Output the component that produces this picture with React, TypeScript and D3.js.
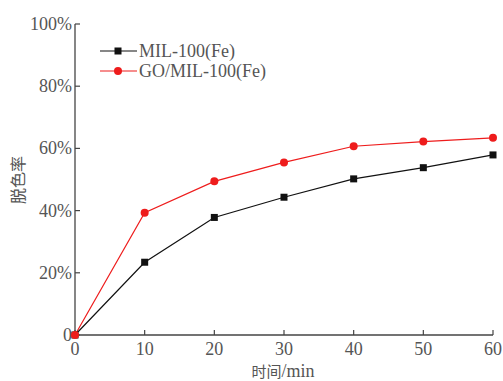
import React from "react";
import * as d3 from "d3";

const times = [0, 10, 20, 30, 40, 50, 60];
const milValues = [0, 23.4, 37.8, 44.3, 50.2, 53.8, 57.9];
const goMilValues = [0, 39.3, 49.4, 55.5, 60.7, 62.2, 63.4];
const xTicks = [0, 10, 20, 30, 40, 50, 60];
const yTicks = [0, 20, 40, 60, 80, 100];
const seriesNames = ["MIL-100(Fe)", "GO/MIL-100(Fe)"];
const xTitleCn = "时间";
const xTitleUnit = "/min";
const yTitle = "脱色率";

const W = 503;
const H = 381;
const left = 75, right = 493, top = 24, bottom = 335;
const serif = { fontFamily: '"Liberation Serif", serif' } as React.CSSProperties;
const cjk = { fontFamily: '"Noto Sans CJK SC", sans-serif' } as React.CSSProperties;

export default function App() {
  const x = d3.scaleLinear().domain([0, 60]).range([left, right]);
  const y = d3.scaleLinear().domain([0, 100]).range([bottom, top]);
  const line = d3.line<number>().x((_, i) => x(times[i])).y((v) => y(v));
  const black = "#111";
  const red = "#ee1c1c";
  const axisColor = "#444";
  const txt = "#555";
  return (
    <div style={{ position: "absolute", left: 0, top: 0 }}>
      <svg width={W} height={H} style={{ display: "block", background: "#fff" }}>
        <line x1={left} x2={left} y1={top} y2={bottom} stroke={axisColor} strokeWidth={1.3} />
        <line x1={left} x2={right} y1={bottom} y2={bottom} stroke={axisColor} strokeWidth={1.3} />
        {yTicks.map((t) => (
          <g key={"y" + t}>
            <line x1={left} x2={left + 5} y1={y(t)} y2={y(t)} stroke={axisColor} strokeWidth={1.2} />
            <text x={left - 3} y={y(t) + 6} textAnchor="end" style={serif} fontSize={18} fill={txt}>
              {t === 0 ? "0" : t + "%"}
            </text>
          </g>
        ))}
        {xTicks.map((t) => (
          <g key={"x" + t}>
            <line x1={x(t)} x2={x(t)} y1={bottom} y2={bottom - 5} stroke={axisColor} strokeWidth={1.2} />
            <text x={x(t)} y={bottom + 20} textAnchor="middle" style={serif} fontSize={18} fill={txt}>
              {t}
            </text>
          </g>
        ))}
        <text x={283} y={377} textAnchor="middle" style={serif} fontSize={18} fill={txt}>
          <tspan style={cjk} fontSize={15}>{xTitleCn}</tspan>{xTitleUnit}
        </text>
        <text
          transform={`translate(24,180) rotate(-90)`}
          textAnchor="middle"
          style={cjk}
          fontSize={16}
          fill={txt}
        >
          {yTitle}
        </text>
        <path d={line(goMilValues) || ""} fill="none" stroke={red} strokeWidth={1.2} />
        <path d={line(milValues) || ""} fill="none" stroke={black} strokeWidth={1.2} />
        {milValues.map((v, i) => (
          <rect key={"m" + i} x={x(times[i]) - 3.5} y={y(v) - 3.5} width={7} height={7} fill={black} />
        ))}
        {goMilValues.map((v, i) => (
          <circle key={"g" + i} cx={x(times[i])} cy={y(v)} r={4} fill={red} />
        ))}
        <line x1={100} x2={137} y1={51} y2={51} stroke={black} strokeWidth={1.2} />
        <rect x={114.5} y={47.5} width={7} height={7} fill={black} />
        <text x={139} y={57} style={serif} fontSize={18} fill={txt}>{seriesNames[0]}</text>
        <line x1={100} x2={137} y1={71} y2={71} stroke={red} strokeWidth={1.2} />
        <circle cx={118} cy={71} r={4} fill={red} />
        <text x={139} y={77} style={serif} fontSize={18} fill={txt}>{seriesNames[1]}</text>
      </svg>
    </div>
  );
}
